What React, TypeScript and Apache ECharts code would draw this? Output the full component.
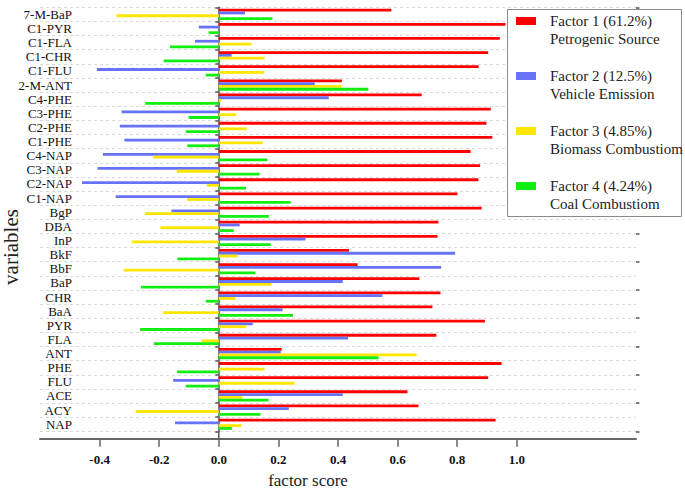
import React, { useEffect, useRef } from "react";
import * as echarts from "echarts";

// Categories listed bottom -> top (as ECharts category y axis draws them)
const categories = [
  "NAP", "ACY", "ACE", "FLU", "PHE", "ANT", "FLA", "PYR", "BaA", "CHR",
  "BaP", "BbF", "BkF", "InP", "DBA", "BgP", "C1-NAP", "C2-NAP", "C3-NAP", "C4-NAP",
  "C1-PHE", "C2-PHE", "C3-PHE", "C4-PHE", "2-M-ANT", "C1-FLU", "C1-CHR", "C1-FLA", "C1-PYR", "7-M-BaP",
];

const factor1 = [
  0.929, 0.670, 0.633, 0.904, 0.949, 0.211, 0.730, 0.893, 0.717, 0.744,
  0.673, 0.466, 0.437, 0.734, 0.737, 0.882, 0.801, 0.871, 0.877, 0.845,
  0.918, 0.898, 0.913, 0.681, 0.413, 0.872, 0.904, 0.943, 0.962, 0.579,
];
const factor2 = [
  -0.147, 0.235, 0.416, -0.153, 0.0, 0.208, 0.434, 0.114, 0.214, 0.549,
  0.416, 0.746, 0.793, 0.291, 0.070, -0.159, -0.346, -0.459, -0.407, -0.389,
  -0.317, -0.332, -0.326, 0.369, 0.322, -0.409, 0.043, -0.080, -0.067, 0.088,
];
const factor3 = [
  0.076, -0.279, 0.079, 0.254, 0.154, 0.664, -0.058, 0.091, -0.187, 0.056,
  0.177, -0.319, 0.063, -0.292, -0.196, -0.248, -0.106, -0.040, -0.141, -0.221,
  0.147, 0.094, 0.059, 0.009, 0.412, 0.153, 0.154, 0.110, 0.0, -0.343,
];
const factor4 = [
  0.044, 0.140, 0.167, -0.111, -0.140, 0.536, -0.218, -0.264, 0.249, -0.044,
  -0.261, 0.123, -0.139, 0.174, 0.050, 0.168, 0.241, 0.091, 0.137, 0.163,
  -0.106, -0.111, -0.101, -0.247, 0.502, -0.044, -0.185, -0.164, -0.034, 0.180,
];

const seriesNames = [
  "Factor 1 (61.2%)\nPetrogenic Source",
  "Factor 2 (12.5%)\nVehicle Emission",
  "Factor 3 (4.85%)\nBiomass Combustiom",
  "Factor 4 (4.24%)\nCoal Combustiom",
];
const seriesColors = ["#ff0000", "#6673f7", "#ffe600", "#12ee12"];
const xTickValues = [-0.4, -0.2, 0.0, 0.2, 0.4, 0.6, 0.8, 1.0];

export default function App() {
  const ref = useRef<HTMLDivElement>(null);

  useEffect(() => {
    if (!ref.current) return;
    const chart = echarts.init(ref.current, null, { renderer: "svg" });
    const font = "Liberation Serif";
    const allData = [factor1, factor2, factor3, factor4];

    chart.setOption({
      animation: false,
      backgroundColor: "#ffffff",
      grid: {
        left: 40,
        right: 49,
        top: 7.3,
        bottom: 57.7,
        containLabel: false,
        outerBoundsMode: "none",
      },
      legend: {
        orient: "vertical",
        left: 516,
        top: -6.45,
        padding: 0,
        itemGap: 0.1,
        itemWidth: 20,
        itemHeight: 8,
        icon: "rect",
        selectedMode: false,
        data: seriesNames,
        formatter: (name: string) => "\n" + name,
        textStyle: {
          fontFamily: font,
          fontSize: 15,
          lineHeight: 18.3,
          color: "#222",
          padding: [0, 0, 0, 9],
        },
        z: 5,
      },
      xAxis: {
        type: "value",
        min: -0.6,
        max: 1.4,
        interval: 0.2,
        offset: 7.4,
        axisLine: { show: true, lineStyle: { color: "#666666", width: 2 } },
        axisTick: {
          show: true,
          length: 8,
          customValues: xTickValues,
          lineStyle: { color: "#666666", width: 1.5 },
        },
        axisLabel: {
          customValues: xTickValues,
          margin: 14,
          fontFamily: font,
          fontSize: 13,
          fontWeight: "bold",
          color: "#111",
          formatter: (v: number) => v.toFixed(1),
        },
        splitLine: { show: false },
      },
      yAxis: [
        {
          type: "category",
          data: categories,
          position: "left",
          axisLine: { show: true, onZero: true, lineStyle: { color: "#555555", width: 1.5 } },
          axisTick: { show: true, inside: false, length: 3.5, lineStyle: { color: "#555555", width: 1.5 } },
          axisLabel: {
            interval: 0,
            margin: -32,
            fontFamily: font,
            fontSize: 13,
            color: "#111",
            padding: [0, 0, 3, 0],
          },
          splitLine: { show: true, lineStyle: { color: "#d9d9d9", type: [3, 3], width: 1 } },
        },
        {
          type: "category",
          data: categories,
          position: "right",
          axisLine: { show: false, onZero: true },
          axisTick: { show: true, inside: false, length: 3.5, lineStyle: { color: "#555555", width: 1.5 } },
          axisLabel: { show: false },
          splitLine: { show: false },
        },
      ],
      series: seriesNames.map((name, i) => ({
        name,
        type: "bar",
        yAxisIndex: 0,
        barWidth: 2.8,
        barGap: "0%",
        data: allData[i],
        itemStyle: { color: seriesColors[i] },
        z: 2,
      })),
      graphic: [
        {
          type: "line",
          shape: { x1: 218.8, y1: 431, x2: 218.8, y2: 438.7 },
          style: { stroke: "#555555", lineWidth: 1.5 },
          z: 3,
        },
        {
          type: "rect",
          shape: { x: 507.5, y: 9.5, width: 174, height: 207 },
          style: { fill: "#ffffff", stroke: "#8a8a8a", lineWidth: 1 },
          z: 3,
        },
        {
          type: "text",
          x: 308,
          y: 480,
          style: {
            text: "factor score",
            fontFamily: font,
            fontSize: 17,
            fill: "#222",
            align: "center",
            verticalAlign: "middle",
          },
        },
        {
          type: "text",
          x: 11,
          y: 247,
          rotation: Math.PI / 2,
          style: {
            text: "variables",
            fontFamily: font,
            fontSize: 21,
            fill: "#222",
            align: "center",
            verticalAlign: "middle",
          },
        },
      ],
    });

    return () => chart.dispose();
  }, []);

  return (
    <div
      ref={ref}
      style={{ position: "absolute", left: 0, top: 0, width: 685, height: 489, background: "#fff" }}
    />
  );
}
